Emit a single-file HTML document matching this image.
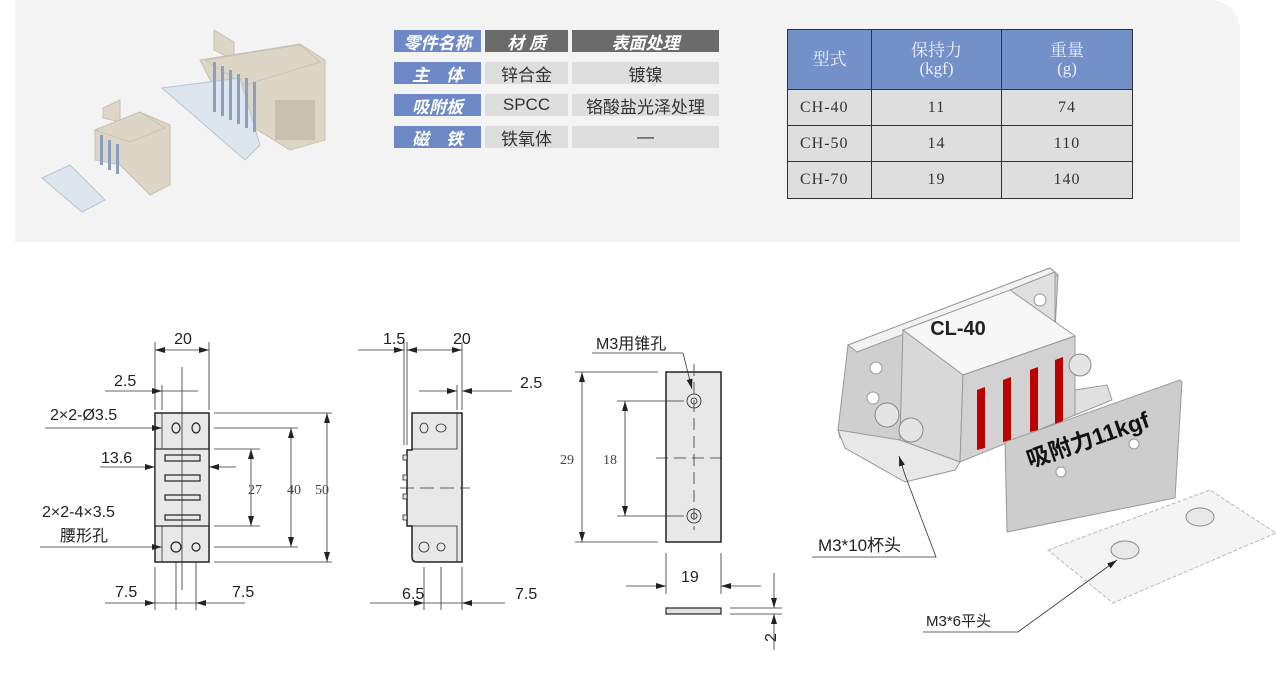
<!DOCTYPE html>
<html><head><meta charset="utf-8"><style>
body{margin:0;width:1276px;height:692px;background:#fff;position:relative;overflow:hidden;font-family:"Liberation Sans","Noto Sans CJK SC",sans-serif}
.top{position:absolute;left:15px;top:0;width:1225px;height:242px;background:#f3f3f3;border-top-right-radius:30px}
.c{position:absolute;display:flex;align-items:center;justify-content:center;font-size:17px;color:#333}
.b{background:#6f88c6;color:#fff;font-weight:bold;font-style:italic}
.g{background:#6b6b6b;color:#fff;font-weight:bold;font-style:italic}
.l{background:#dedede}
table{position:absolute;left:787px;top:29px;border-collapse:collapse;font-family:"Liberation Serif","Noto Serif CJK SC",serif;color:#333}
td{border:1px solid #333;text-align:center;background:#dedede;font-size:16px;padding:0;letter-spacing:1px}
th{border:1px solid #333;background:#7390c8;color:#eef;font-weight:normal;font-size:17px;line-height:18px;padding:0}
</style></head><body>
<div class="top"></div>
<svg style="position:absolute;left:0;top:0" width="380" height="242">
<g fill="#ddd6c6" stroke="#c9c2b0">
<polygon points="214,30 234,42 234,60 214,50"/>
<polygon points="200,60 300,44 325,60 325,140 290,150 225,110"/>
<polygon points="205,60 300,45 320,62 245,85"/>
<polygon points="103,108 120,100 120,122 103,118"/>
<polygon points="95,130 140,112 170,125 170,185 150,195 120,165 95,160"/>
<polygon points="95,130 140,112 165,128 130,142"/>
</g>
<polygon points="162,88 240,78 260,145 245,160" fill="#dde6ee" stroke="#b8c4d0"/>
<polygon points="42,178 70,165 105,200 82,212" fill="#dde6ee" stroke="#b8c4d0"/>
<rect x="275" y="100" width="40" height="40" fill="#c9c0ad"/>
<g fill="#8aa0c0"><rect x="213" y="62" width="3" height="50"/><rect x="221" y="66" width="3" height="50"/><rect x="229" y="70" width="3" height="50"/><rect x="237" y="74" width="3" height="50"/><rect x="245" y="78" width="3" height="50"/><rect x="253" y="82" width="3" height="50"/><rect x="100" y="135" width="3" height="30"/><rect x="108" y="140" width="3" height="30"/><rect x="116" y="144" width="3" height="30"/></g>
</svg>
<div class="c b" style="left:394px;top:30px;width:87px;height:22px">零件名称</div>
<div class="c g" style="left:485px;top:30px;width:83px;height:22px">材 质</div>
<div class="c g" style="left:572px;top:30px;width:147px;height:22px">表面处理</div>
<div class="c b" style="left:394px;top:62px;width:87px;height:22px">主　体</div>
<div class="c l" style="left:485px;top:62px;width:83px;height:22px">锌合金</div>
<div class="c l" style="left:572px;top:62px;width:147px;height:22px">镀镍</div>
<div class="c b" style="left:394px;top:94px;width:87px;height:22px">吸附板</div>
<div class="c l" style="left:485px;top:94px;width:83px;height:22px">SPCC</div>
<div class="c l" style="left:572px;top:94px;width:147px;height:22px">铬酸盐光泽处理</div>
<div class="c b" style="left:394px;top:126px;width:87px;height:22px">磁　铁</div>
<div class="c l" style="left:485px;top:126px;width:83px;height:22px">铁氧体</div>
<div class="c l" style="left:572px;top:126px;width:147px;height:22px">—</div>
<table>
<tr style="height:60px"><th style="width:83px">型式</th><th style="width:129px">保持力<br>(kgf)</th><th style="width:130px">重量<br>(g)</th></tr>
<tr style="height:36px"><td style="text-align:left;padding-left:12px">CH-40</td><td>11</td><td>74</td></tr>
<tr style="height:36px"><td style="text-align:left;padding-left:12px">CH-50</td><td>14</td><td>110</td></tr>
<tr style="height:37px"><td style="text-align:left;padding-left:12px">CH-70</td><td>19</td><td>140</td></tr>
</table>
<svg style="position:absolute;left:0;top:0" width="1276" height="692" font-family="Liberation Sans,Noto Sans CJK SC,sans-serif">
<defs><marker id="a" viewBox="0 0 10 6" refX="10" refY="3" markerWidth="14" markerHeight="6" markerUnits="userSpaceOnUse" orient="auto-start-reverse"><path d="M0,0L10,3L0,6z" fill="#222"/></marker></defs>
<g stroke="#333" stroke-width="0.8" fill="none">
<rect x="155" y="413" width="54" height="149" fill="#e8e8e8" stroke="#222" stroke-width="1.5"/>
<line x1="162" y1="413" x2="162" y2="448"/><line x1="162" y1="526" x2="162" y2="562"/>
<rect x="155" y="449" width="54" height="77" fill="#e8e8e8" stroke="#222" stroke-width="1.2"/>
<g stroke="#222" stroke-width="1.2"><rect x="165" y="455" width="35" height="6"/><rect x="165" y="475" width="35" height="6"/><rect x="165" y="495" width="35" height="5"/><rect x="165" y="515" width="35" height="5"/>
<ellipse cx="176" cy="428" rx="4" ry="5"/><ellipse cx="196" cy="428" rx="4" ry="5"/><ellipse cx="176" cy="547" rx="5" ry="5"/><circle cx="196" cy="547" r="4"/></g>
<line x1="182" y1="367" x2="182" y2="590"/>
<line x1="155" y1="342" x2="155" y2="410"/><line x1="209" y1="342" x2="209" y2="410"/>
<line x1="155" y1="350" x2="209" y2="350" marker-start="url(#a)" marker-end="url(#a)"/>
<line x1="162" y1="385" x2="162" y2="410"/><line x1="105" y1="391" x2="162" y2="391" marker-end="url(#a)"/><line x1="162" y1="391" x2="198" y2="391"/>
<line x1="214" y1="413" x2="332" y2="413"/><line x1="214" y1="562" x2="332" y2="562"/>
<line x1="214" y1="428" x2="298" y2="428"/><line x1="214" y1="547" x2="298" y2="547"/>
<line x1="214" y1="449" x2="260" y2="449"/><line x1="214" y1="526" x2="260" y2="526"/>
<line x1="327" y1="413" x2="327" y2="562" marker-start="url(#a)" marker-end="url(#a)"/>
<line x1="291" y1="428" x2="291" y2="547" marker-start="url(#a)" marker-end="url(#a)"/>
<line x1="251" y1="449" x2="251" y2="526" marker-start="url(#a)" marker-end="url(#a)"/>
<line x1="45" y1="428" x2="162" y2="428" marker-end="url(#a)"/>
<line x1="100" y1="467" x2="155" y2="467" marker-end="url(#a)"/><line x1="236" y1="467" x2="209" y2="467" marker-end="url(#a)"/>
<line x1="40" y1="547" x2="162" y2="547" marker-end="url(#a)"/>
<line x1="155" y1="567" x2="155" y2="610"/><line x1="176" y1="562" x2="176" y2="610"/><line x1="196" y1="562" x2="196" y2="610"/>
<line x1="105" y1="603" x2="155" y2="603" marker-end="url(#a)"/><line x1="155" y1="603" x2="196" y2="603"/><line x1="245" y1="603" x2="196" y2="603" marker-end="url(#a)"/>
<path d="M412,413H462V562H417Q412,562 412,557V526H407V450H412Z" fill="#e8e8e8" stroke="#222" stroke-width="1.5"/>
<path d="M412,449H457V413M412,526H457V562" stroke="#222"/>
<g fill="#e8e8e8" stroke="#222"><rect x="403" y="455" width="4" height="5"/><rect x="403" y="475" width="4" height="5"/><rect x="403" y="494" width="4" height="5"/><rect x="403" y="515" width="4" height="5"/>
<ellipse cx="424" cy="428" rx="4" ry="5"/><ellipse cx="441" cy="428" rx="5" ry="4"/><ellipse cx="424" cy="547" rx="5" ry="5"/><circle cx="441" cy="547" r="4"/></g>
<line x1="400" y1="488" x2="470" y2="488" stroke-dasharray="14,6"/>
<line x1="404" y1="342" x2="404" y2="445"/><line x1="407" y1="342" x2="407" y2="445"/><line x1="462" y1="342" x2="462" y2="410"/><line x1="457" y1="385" x2="457" y2="410"/>
<line x1="358" y1="350" x2="404" y2="350" marker-end="url(#a)"/><line x1="407" y1="350" x2="462" y2="350" marker-start="url(#a)" marker-end="url(#a)"/>
<line x1="419" y1="391" x2="457" y2="391" marker-end="url(#a)"/><line x1="512" y1="391" x2="462" y2="391" marker-end="url(#a)"/>
<line x1="424" y1="567" x2="424" y2="610"/><line x1="441" y1="567" x2="441" y2="610"/><line x1="462" y1="567" x2="462" y2="610"/>
<line x1="370" y1="603" x2="424" y2="603" marker-end="url(#a)"/><line x1="424" y1="603" x2="462" y2="603"/><line x1="505" y1="603" x2="462" y2="603" marker-end="url(#a)"/>
<rect x="666" y="372" width="55" height="170" fill="#e8e8e8" stroke="#222" stroke-width="1.5"/>
<g stroke="#222"><circle cx="694" cy="401" r="7"/><circle cx="694" cy="401" r="3"/><circle cx="694" cy="516" r="7"/><circle cx="694" cy="516" r="3"/></g>
<line x1="694" y1="364" x2="694" y2="530" stroke-dasharray="12,6"/><line x1="656" y1="458" x2="722" y2="458" stroke-dasharray="12,6"/>
<line x1="575" y1="372" x2="658" y2="372"/><line x1="575" y1="542" x2="658" y2="542"/>
<line x1="617" y1="401" x2="684" y2="401"/><line x1="617" y1="516" x2="684" y2="516"/>
<line x1="582" y1="372" x2="582" y2="542" marker-start="url(#a)" marker-end="url(#a)"/>
<line x1="625" y1="401" x2="625" y2="516" marker-start="url(#a)" marker-end="url(#a)"/>
<line x1="592" y1="353" x2="683" y2="353"/><line x1="683" y1="353" x2="692" y2="389" marker-end="url(#a)"/>
<line x1="666" y1="553" x2="666" y2="594"/><line x1="721" y1="553" x2="721" y2="594"/>
<line x1="626" y1="586" x2="666" y2="586" marker-end="url(#a)"/><line x1="761" y1="586" x2="721" y2="586" marker-end="url(#a)"/>
<rect x="666" y="608" width="55" height="6" fill="#e0e0e0" stroke="#222" stroke-width="1.2"/>
<line x1="730" y1="608" x2="782" y2="608"/><line x1="730" y1="614" x2="782" y2="614"/>
<line x1="774" y1="573" x2="774" y2="608" marker-end="url(#a)"/><line x1="774" y1="650" x2="774" y2="614" marker-end="url(#a)"/>
</g>
<g font-size="16" fill="#222">
<text x="183" y="344" text-anchor="middle">20</text><text x="114" y="386">2.5</text>
<text x="50" y="420">2×2-Ø3.5</text><text x="101" y="463">13.6</text>
<text x="42" y="517">2×2-4×3.5</text><text x="60" y="541">腰形孔</text>
<text x="115" y="597">7.5</text><text x="232" y="597">7.5</text>
<text x="383" y="344">1.5</text><text x="453" y="344">20</text><text x="520" y="388">2.5</text>
<text x="402" y="599">6.5</text><text x="515" y="599">7.5</text>
<text x="596" y="349">M3用锥孔</text><text x="681" y="582">19</text>
<text x="768" y="650" transform="rotate(-90 768 642)">2</text>
</g>
<g font-size="14" fill="#444" font-family="Liberation Serif,serif">
<text x="248" y="494">27</text><text x="287" y="494">40</text><text x="315" y="494">50</text>
<text x="560" y="464">29</text><text x="603" y="464">18</text>
</g>
<g stroke="#999" stroke-width="1">
<polygon points="848,345 1050,268 1058,275 1055,330 1010,300 903,335 900,440 840,438 838,430" fill="#cfcfcf"/>
<polygon points="848,345 1050,268 1058,275 857,352" fill="#f2f2f2"/>
<polygon points="1010,290 1055,272 1055,322 1040,325" fill="#e0e0e0"/>
<polygon points="903,330 1010,290 1075,336 963,375" fill="#f7f7f7"/>
<polygon points="903,330 963,375 960,462 900,440" fill="#d8d8d8"/>
<polygon points="963,375 1075,336 1075,415 960,462" fill="#d2d2d2"/>
<polygon points="838,430 900,440 960,462 955,470 905,482 845,448" fill="#e8e8e8"/>
<polygon points="1075,390 1107,385 1112,400 1075,415" fill="#e0e0e0"/>
</g>
<g fill="#b00"><polygon points="977,390 985,387 985,448 977,450"/><polygon points="1003,380 1011,377 1011,440 1003,442"/><polygon points="1030,370 1038,367 1038,430 1030,432"/><polygon points="1055,360 1063,357 1063,421 1055,424"/></g>
<g fill="#e4e4e4" stroke="#888"><circle cx="887" cy="415" r="12"/><circle cx="911" cy="430" r="12"/><circle cx="1080" cy="365" r="11"/></g>
<g fill="#fff" stroke="#999"><circle cx="876" cy="368" r="6"/><circle cx="873" cy="398" r="6"/><circle cx="1040" cy="300" r="6"/></g>
<text x="958" y="335" font-size="20" font-weight="bold" fill="#222" text-anchor="middle">CL-40</text>
<polygon points="1005,442 1180,380 1182,382 1175,498 1007,532" fill="#cdcdcd" stroke="#999"/>
<text x="1030" y="468" font-size="23" font-weight="bold" fill="#111" transform="rotate(-19 1030 468)">吸附力11kgf</text>
<g fill="#fff" stroke="#999"><circle cx="1061" cy="472" r="5"/><circle cx="1134" cy="444" r="5"/></g>
<polygon points="1048,550 1210,490 1276,533 1113,603" fill="#f4f4f4" stroke="#bbb" stroke-dasharray="4,2"/>
<g fill="#e8e8e8" stroke="#888"><ellipse cx="1125" cy="550" rx="14" ry="9"/><ellipse cx="1200" cy="517" rx="14" ry="9"/></g>
<g stroke="#333" stroke-width="0.8" fill="none">
<polyline points="812,557 936,557 905,475"/><line x1="905" y1="475" x2="899" y2="456" marker-end="url(#a)"/>
<polyline points="923,632 1018,632 1117,560" marker-end="url(#a)"/>
</g>
<text x="818" y="551" font-size="17" fill="#222">M3*10杯头</text>
<text x="926" y="626" font-size="15" fill="#222">M3*6平头</text>
</svg>
</body></html>
